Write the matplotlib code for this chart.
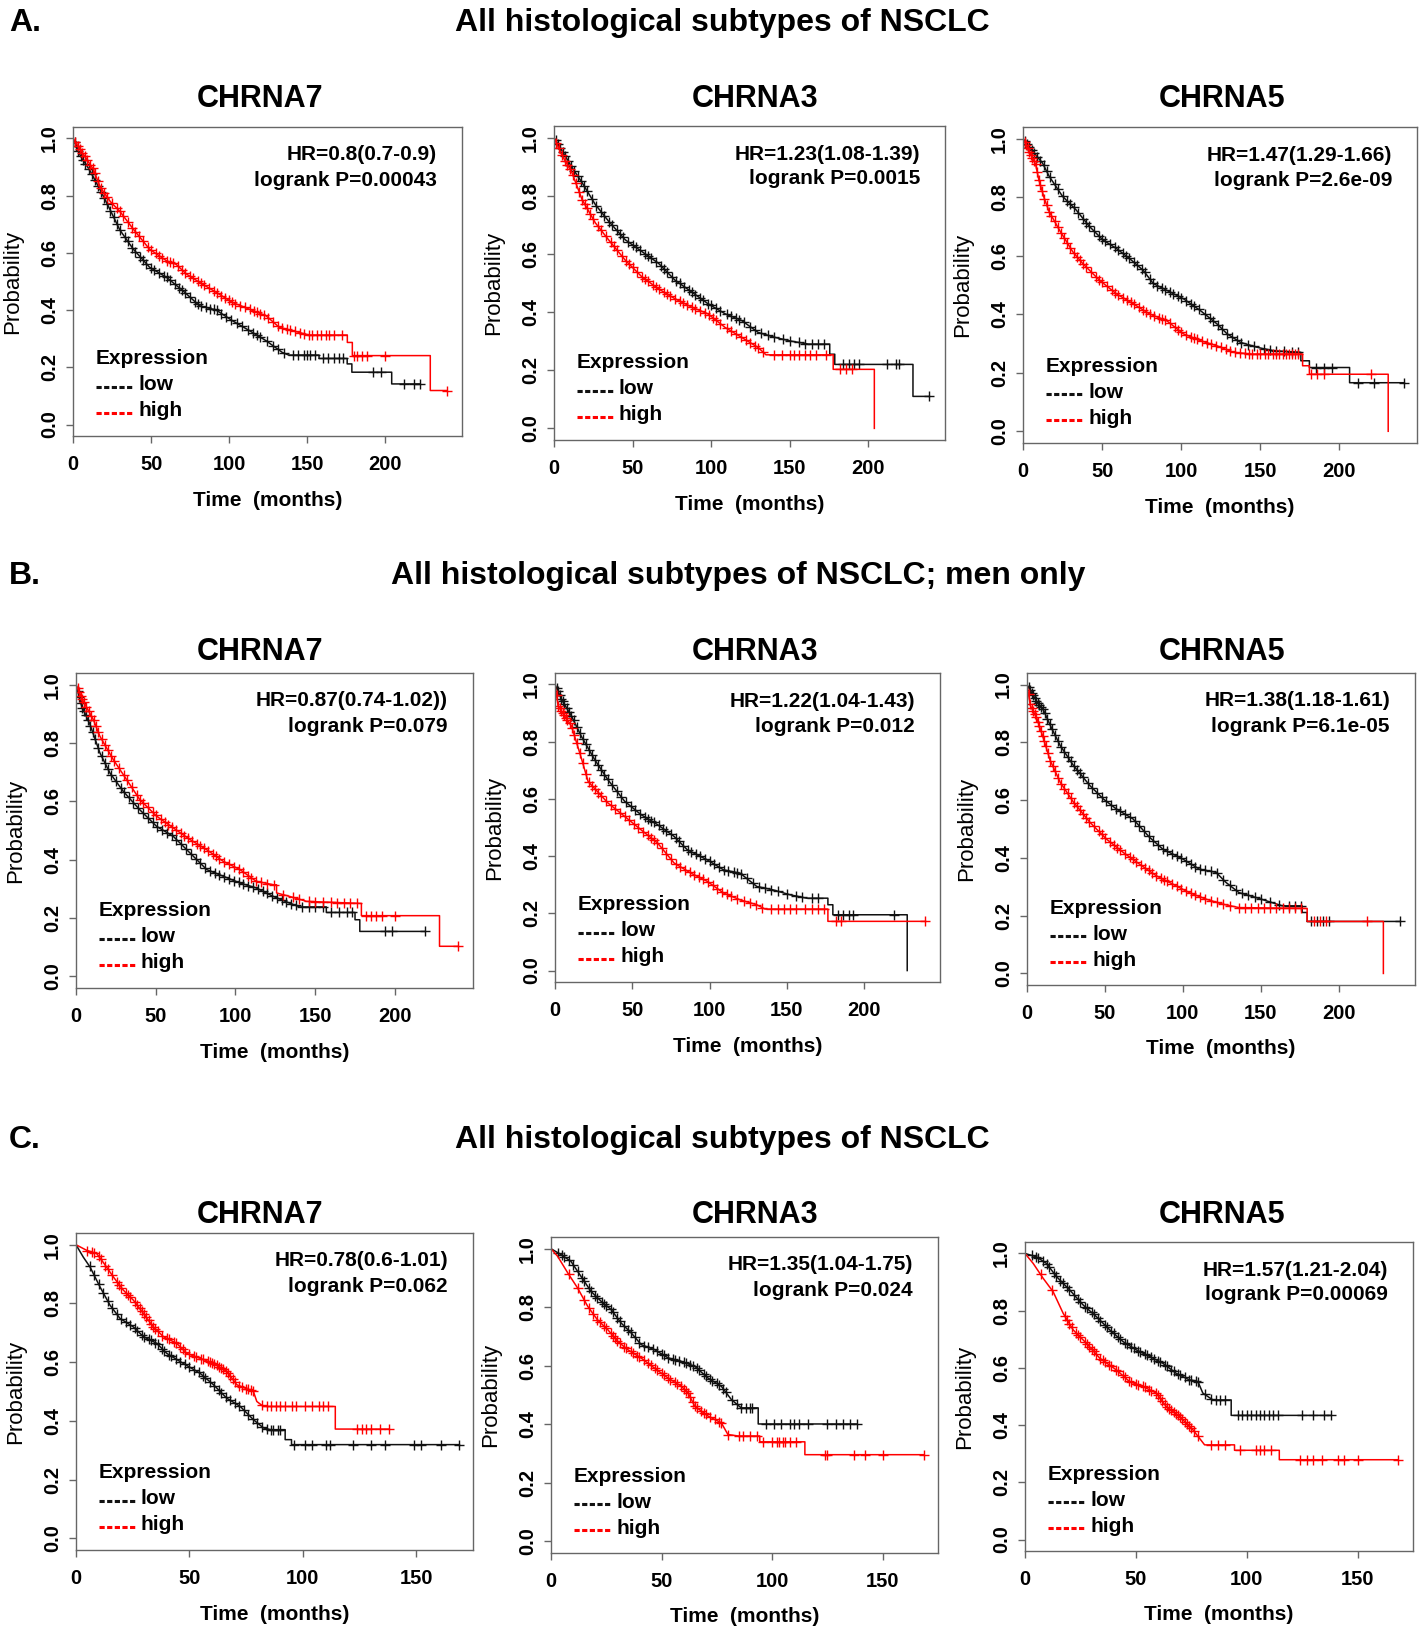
import numpy as np
import matplotlib.pyplot as plt
from matplotlib.lines import Line2D

plt.rcParams['font.family'] = ['Liberation Sans', 'DejaVu Sans']

# ---- Kaplan-Meier curves (months, survival) ----
# Row A: all histological subtypes
a7_low_t = [0, 4.7, 11, 17.4, 23.8, 30, 38.6, 49, 60, 70.5, 81, 91.7, 102, 113, 123.6, 134, 138, 157.5, 157.5, 175.5, 175.5, 178.5, 178.5, 204, 204, 222]
a7_low_s = [1, 0.94, 0.886, 0.82, 0.75, 0.68, 0.613, 0.55, 0.514, 0.467, 0.415, 0.40, 0.363, 0.328, 0.293, 0.252, 0.243, 0.243, 0.231, 0.231, 0.212, 0.212, 0.183, 0.183, 0.142, 0.142]
a7_low_cens = [1, 2, 3.5, 5, 6.5, 8, 10, 12, 14, 16, 18, 20, 22, 24, 26, 28, 30, 33, 35, 38, 40, 43, 45, 47, 50, 52, 55, 58, 60, 62, 65, 68, 70, 72, 75, 78, 80, 82, 85, 88, 90, 92, 95, 98, 101, 105, 108, 112, 115, 118, 120, 124, 128, 131, 135, 141, 144, 148, 150, 152, 155, 160, 163, 167, 170, 173, 192, 197, 212, 218, 222]
a7_high_t = [0, 6.8, 13, 17.4, 23.8, 30, 38.6, 49, 60, 66, 72.6, 81, 91.7, 102, 113, 123.6, 132, 140.5, 151, 175.6, 175.6, 178.8, 178.8, 228.7, 228.7, 239.3]
a7_high_s = [1, 0.944, 0.892, 0.83, 0.78, 0.745, 0.683, 0.613, 0.572, 0.56, 0.526, 0.497, 0.462, 0.427, 0.403, 0.38, 0.34, 0.328, 0.313, 0.313, 0.287, 0.287, 0.241, 0.241, 0.119, 0.119]
a7_high_cens = [1.5, 3, 4.5, 6, 7.5, 9, 11, 12.5, 14, 16, 18, 20, 22, 25, 28, 30, 32, 35, 38, 40, 42, 45, 48, 50, 53, 55, 57, 60, 62, 64, 67, 70, 72, 75, 77, 80, 82, 84, 87, 90, 92, 95, 97, 100, 102, 104, 107, 110, 113, 116, 118, 120, 122, 125, 128, 131, 134, 137, 139, 142, 145, 148, 151, 153, 156, 159, 162, 164, 167, 172, 180, 182, 185, 188, 200, 239.3]

a3_low_t = [0, 5, 11.4, 17.8, 26.3, 34.7, 45.3, 56, 66.5, 77, 87.7, 98, 109, 119.5, 130, 140.7, 151, 162, 175.6, 175.6, 178.8, 178.8, 228.6, 228.6, 239]
a3_low_s = [1, 0.956, 0.898, 0.846, 0.77, 0.713, 0.649, 0.608, 0.568, 0.51, 0.469, 0.429, 0.394, 0.371, 0.33, 0.313, 0.30, 0.29, 0.29, 0.255, 0.255, 0.22, 0.22, 0.11, 0.11]
a3_low_cens = [1, 2.5, 4, 5.5, 7, 9, 11, 13, 15, 17, 19, 21, 24, 27, 30, 32, 35, 37, 40, 42, 44, 47, 50, 52, 55, 58, 60, 62, 65, 68, 70, 72, 75, 78, 80, 83, 86, 88, 90, 93, 95, 98, 100, 103, 106, 110, 113, 116, 118, 121, 125, 128, 132, 136, 140, 146, 150, 156, 160, 164, 168, 172, 184, 188, 191, 194, 212, 218, 220, 239]
a3_high_t = [0, 5, 11.4, 17.8, 26.3, 34.7, 45.3, 56, 66.5, 77, 87.7, 98, 109, 119.5, 130, 135, 177.8, 177.8, 204, 204]
a3_high_s = [1, 0.94, 0.88, 0.788, 0.707, 0.649, 0.579, 0.521, 0.48, 0.446, 0.417, 0.394, 0.347, 0.313, 0.278, 0.253, 0.253, 0.203, 0.203, 0.0]
a3_high_cens = [1.5, 3, 5, 7, 8.5, 10, 12, 14, 16, 18, 19.5, 21, 23, 25, 28, 30, 33, 36, 38, 40, 43, 46, 48, 50, 53, 56, 58, 60, 63, 65, 67, 70, 72, 74, 77, 80, 82, 85, 88, 90, 93, 96, 99, 101, 103, 106, 110, 113, 116, 119, 122, 125, 128, 130, 133, 140, 145, 150, 153, 156, 160, 163, 167, 173, 182, 186, 190]

a5_low_t = [0, 6, 12.3, 16.5, 25, 33.5, 42, 50.5, 59, 67.4, 76, 82.3, 90.8, 101.4, 112, 122.6, 129, 137.4, 148, 158.6, 175.6, 175.6, 181, 181, 206.4, 206.4, 241]
a5_low_s = [1, 0.958, 0.917, 0.872, 0.803, 0.757, 0.70, 0.654, 0.625, 0.59, 0.55, 0.505, 0.482, 0.453, 0.413, 0.367, 0.333, 0.304, 0.287, 0.275, 0.27, 0.241, 0.241, 0.218, 0.218, 0.166, 0.166]
a5_low_cens = [1, 2.5, 4, 5.5, 7, 9, 11, 13, 15, 17, 20, 22, 25, 28, 30, 32, 35, 38, 40, 42, 45, 48, 50, 52, 55, 58, 60, 63, 65, 67, 70, 72, 75, 77, 80, 82, 85, 88, 90, 93, 95, 98, 100, 103, 106, 108, 111, 115, 118, 120, 123, 126, 129, 132, 135, 138, 142, 146, 152, 156, 160, 165, 170, 174, 185, 190, 195, 212, 222, 241]
a5_high_t = [0, 3.8, 8, 10, 13.4, 16.5, 23, 31.4, 37.8, 48.4, 59, 69.6, 80, 90.8, 101.4, 112, 122.6, 133, 143.8, 176.7, 176.7, 181, 181, 230.8, 230.8]
a5_high_s = [1, 0.958, 0.912, 0.86, 0.797, 0.751, 0.688, 0.614, 0.573, 0.516, 0.47, 0.436, 0.401, 0.378, 0.333, 0.31, 0.292, 0.27, 0.264, 0.264, 0.224, 0.224, 0.195, 0.195, 0.0]
a5_high_cens = [1, 2, 3, 4, 5, 6, 7, 8, 9, 10, 11, 12, 13.5, 15, 16.5, 18, 20, 22, 24, 26, 28, 30, 32, 34, 36, 38, 40, 43, 46, 48, 50, 53, 56, 58, 60, 63, 66, 68, 70, 73, 76, 78, 80, 83, 86, 88, 90, 93, 96, 98, 100, 103, 106, 108, 110, 113, 116, 119, 122, 125, 128, 131, 134, 137, 140, 143, 145, 148, 150, 153, 155, 158, 160, 162, 164, 166, 168, 170, 172, 174, 182, 186, 190, 220]

# Row B: men only
b7_low_t = [0, 3.6, 8.8, 15, 21.3, 29.7, 40, 50.6, 61, 71.5, 82, 92.4, 102.8, 113, 123.7, 134, 140.4, 157, 157, 175, 175, 178, 178, 218.8]
b7_low_s = [1, 0.926, 0.863, 0.766, 0.697, 0.634, 0.571, 0.514, 0.48, 0.423, 0.366, 0.343, 0.32, 0.303, 0.274, 0.251, 0.238, 0.238, 0.219, 0.219, 0.194, 0.194, 0.154, 0.154]
b7_low_cens = [1, 2, 3, 4, 5, 6, 7.5, 9, 10.5, 12, 14, 16, 18, 20, 22, 25, 28, 30, 33, 36, 39, 42, 45, 48, 51, 54, 57, 60, 63, 66, 69, 72, 75, 78, 81, 84, 87, 90, 93, 96, 99, 102, 105, 108, 111, 114, 117, 120, 123, 126, 129, 132, 135, 138, 142, 146, 150, 155, 160, 165, 170, 173, 194, 198, 218.8]
b7_high_t = [0, 4.6, 10.9, 15, 23.4, 31.8, 40, 50.6, 61, 71.5, 82, 92.4, 102.8, 113, 123.7, 125.8, 125.8, 134, 144.6, 179, 179, 228, 228, 239.7]
b7_high_s = [1, 0.943, 0.88, 0.823, 0.743, 0.674, 0.606, 0.549, 0.509, 0.469, 0.434, 0.394, 0.366, 0.326, 0.314, 0.314, 0.286, 0.274, 0.257, 0.25, 0.208, 0.208, 0.103, 0.103]
b7_high_cens = [1, 2, 3, 4, 5, 6.5, 8, 9.5, 11, 12.5, 14, 16, 18, 20, 22, 24, 27, 30, 32, 35, 38, 40, 42, 45, 48, 50, 53, 56, 58, 60, 63, 66, 68, 70, 73, 76, 78, 80, 83, 86, 88, 90, 93, 96, 99, 102, 105, 108, 110, 113, 116, 120, 124, 130, 136, 140, 146, 150, 155, 160, 164, 168, 172, 176, 182, 185, 188, 192, 200, 239.7]

b3_low_t = [0, 4.3, 10.7, 17, 25.7, 34.2, 45, 55.6, 66.3, 77, 85.6, 98.4, 109, 119.8, 130.5, 141, 151.9, 162.6, 176.5, 176.5, 179.7, 179.7, 227.8, 227.8]
b3_low_s = [1, 0.947, 0.889, 0.819, 0.737, 0.667, 0.592, 0.545, 0.51, 0.469, 0.422, 0.387, 0.352, 0.34, 0.294, 0.282, 0.265, 0.253, 0.253, 0.23, 0.23, 0.195, 0.195, 0.0]
b3_low_cens = [1, 2, 3, 4, 5, 6, 7.5, 9, 10.5, 12, 14, 16, 18, 20, 22, 24, 26, 28, 30, 32, 34, 37, 40, 43, 46, 49, 52, 55, 58, 60, 62, 64, 67, 70, 72, 75, 78, 80, 83, 86, 88, 91, 94, 97, 100, 103, 106, 109, 112, 116, 118, 120, 124, 128, 132, 136, 140, 144, 150, 156, 160, 166, 170, 183, 186, 190, 193, 219]
b3_high_t = [0, 2, 10.7, 17, 21.4, 34.2, 45, 55.6, 66.3, 77, 87.7, 98.4, 109, 119.8, 130.5, 135.8, 176.5, 176.5, 239.6]
b3_high_s = [1, 0.924, 0.854, 0.743, 0.661, 0.586, 0.539, 0.492, 0.446, 0.376, 0.341, 0.312, 0.271, 0.247, 0.23, 0.215, 0.215, 0.172, 0.172]
b3_high_cens = [1, 2, 3, 4, 5, 6, 7, 8, 9.5, 11, 12.5, 14, 16, 18, 20, 22, 24, 26, 28, 30, 33, 36, 39, 42, 45, 48, 51, 54, 57, 60, 62, 64, 66, 69, 72, 75, 78, 81, 84, 87, 90, 93, 96, 99, 102, 105, 108, 111, 114, 118, 122, 126, 130, 134, 140, 144, 148, 152, 156, 162, 166, 170, 174, 182, 185, 239.6]

b5_low_t = [0, 6.4, 10.6, 14.9, 21.3, 29.8, 40.4, 49, 57.4, 68, 78.7, 87.2, 100, 110.6, 121.3, 127.7, 136, 146.8, 157.4, 163.8, 176.6, 176.6, 179.8, 179.8, 239.4]
b5_low_s = [1, 0.94, 0.911, 0.859, 0.789, 0.72, 0.65, 0.604, 0.569, 0.535, 0.471, 0.43, 0.396, 0.361, 0.35, 0.315, 0.28, 0.263, 0.245, 0.234, 0.234, 0.211, 0.211, 0.18, 0.18]
b5_low_cens = [1, 2, 3, 4, 5, 6, 7, 8, 9, 10, 11.5, 13, 14.5, 16, 18, 20, 22, 24, 26, 28, 30, 32, 34, 36, 39, 42, 45, 48, 51, 54, 57, 60, 63, 66, 69, 72, 75, 78, 81, 84, 87, 90, 93, 96, 99, 102, 105, 108, 111, 114, 118, 122, 126, 130, 134, 138, 142, 146, 150, 156, 162, 168, 172, 176, 182, 186, 190, 194, 239.4]
b5_high_t = [0, 2.1, 6.4, 10.6, 14.9, 21.3, 29.8, 40.4, 51, 61.7, 72.3, 83, 93.6, 104, 115, 125.5, 136, 179.8, 179.8, 228.7, 228.7]
b5_high_s = [1, 0.928, 0.882, 0.8125, 0.737, 0.662, 0.593, 0.523, 0.465, 0.419, 0.378, 0.338, 0.309, 0.28, 0.257, 0.24, 0.228, 0.225, 0.18, 0.18, 0.0]
b5_high_cens = [1, 2, 3, 4, 5, 6, 7, 8, 9, 10, 11, 12, 13.5, 15, 16.5, 18, 20, 22, 24, 26, 28, 30, 32, 34, 36, 38, 40, 43, 46, 48, 50, 53, 56, 58, 60, 63, 66, 68, 70, 73, 76, 78, 80, 83, 86, 88, 90, 93, 96, 99, 102, 105, 108, 111, 114, 118, 122, 126, 130, 136, 140, 144, 148, 152, 156, 160, 164, 168, 172, 176, 184, 188, 192, 218]

# Row C
c7_low_t = [0, 3.2, 6.2, 10.6, 15, 19.4, 25.3, 29.7, 35.6, 40, 45.9, 54.7, 60.6, 66.5, 72.4, 78.2, 82.6, 85.6, 92.2, 92.2, 95, 95, 169]
c7_low_s = [1, 0.958, 0.924, 0.856, 0.794, 0.749, 0.72, 0.687, 0.664, 0.63, 0.602, 0.562, 0.523, 0.477, 0.449, 0.404, 0.376, 0.37, 0.37, 0.336, 0.336, 0.319, 0.319]
c7_low_cens = [6, 8, 10, 12, 14, 16, 18, 20, 22, 24, 26, 27, 29, 30, 32, 33, 35, 36, 38, 39, 41, 42, 44, 46, 48, 50, 52, 54, 56, 57, 59, 61, 63, 64, 66, 68, 70, 72, 74, 76, 78, 80, 82, 84, 86, 87, 89, 90, 96, 101, 104, 110, 112, 122, 130, 136, 149, 152, 161, 169]
c7_high_t = [0, 4.7, 9.1, 12, 16.5, 20.9, 25.3, 29.7, 34.1, 38.5, 44.4, 48.8, 54.7, 60.6, 66.5, 70.9, 78.2, 79.7, 82.6, 114.3, 114.3, 137.8]
c7_high_s = [1, 0.981, 0.97, 0.94, 0.89, 0.845, 0.811, 0.766, 0.72, 0.687, 0.664, 0.63, 0.613, 0.596, 0.568, 0.523, 0.50, 0.466, 0.449, 0.449, 0.372, 0.372]
c7_high_cens = [5, 7, 8, 10, 11, 13, 14, 16, 18, 19, 20, 22, 23, 24, 26, 27, 28, 29, 30, 31, 32, 33, 34, 35, 36, 38, 40, 41, 43, 44, 46, 47, 48, 50, 52, 53, 55, 56, 58, 59, 60, 61, 62, 63, 64, 65, 66, 67, 68, 69, 70, 72, 73, 75, 76, 77, 78, 82, 84, 86, 88, 90, 92, 95, 97, 101, 104, 107, 109, 111, 124, 126, 128, 130, 134, 137.8]

c3_low_t = [0, 4.5, 9, 13.6, 18.1, 22.7, 27.2, 31.7, 36.3, 40.8, 46.8, 52.9, 58.9, 65, 71, 77, 81.6, 86, 93.7, 93.7, 138.2]
c3_low_s = [1, 0.98, 0.957, 0.905, 0.854, 0.82, 0.792, 0.746, 0.712, 0.672, 0.655, 0.627, 0.615, 0.598, 0.558, 0.53, 0.484, 0.456, 0.456, 0.401, 0.401]
c3_low_cens = [3, 5, 6, 8, 10, 12, 14, 15, 17, 18, 20, 21, 23, 24, 25, 27, 28, 30, 31, 33, 35, 36, 38, 40, 42, 44, 46, 48, 50, 51, 53, 55, 56, 58, 60, 61, 63, 64, 66, 67, 69, 70, 72, 73, 75, 76, 78, 79, 82, 84, 86, 88, 90, 91, 97, 101, 104, 108, 110, 112, 116, 125, 129, 132, 135, 138.2]
c3_high_t = [0, 3, 7.6, 12, 16.6, 21, 25.7, 30.2, 34.7, 40.8, 46.8, 52.9, 58.9, 62, 65, 71, 77, 80, 84.6, 94.4, 94.4, 114.8, 114.8, 168.7]
c3_high_s = [1, 0.974, 0.917, 0.866, 0.803, 0.757, 0.723, 0.683, 0.655, 0.626, 0.592, 0.558, 0.53, 0.507, 0.462, 0.428, 0.405, 0.365, 0.36, 0.36, 0.34, 0.34, 0.296, 0.296]
c3_high_cens = [8, 12, 15, 17, 19, 21, 22, 24, 25, 27, 28, 29, 30, 31, 33, 34, 36, 37, 39, 40, 42, 44, 45, 47, 48, 50, 51, 53, 54, 56, 57, 59, 60, 61, 62, 63, 64, 65, 66, 68, 69, 70, 72, 74, 76, 77, 80, 85, 87, 90, 93, 96, 100, 102, 103, 105, 106, 108, 111, 124, 125, 137, 142, 150, 168.7]

c5_low_t = [0, 5.2, 9.7, 14.2, 20.2, 26.2, 32.2, 38.2, 44.2, 50.2, 56.2, 62.2, 68.2, 74.2, 78, 80.2, 84.7, 93, 93, 138]
c5_low_s = [1, 0.988, 0.965, 0.919, 0.872, 0.82, 0.779, 0.733, 0.692, 0.663, 0.64, 0.616, 0.581, 0.558, 0.552, 0.512, 0.488, 0.488, 0.434, 0.434]
c5_low_cens = [3, 5, 6, 8, 10, 11, 13, 14, 16, 17, 19, 20, 22, 24, 25, 27, 28, 30, 31, 33, 34, 36, 37, 39, 40, 42, 43, 45, 46, 48, 49, 51, 52, 54, 55, 57, 58, 60, 61, 63, 64, 66, 67, 69, 70, 72, 74, 75, 77, 78, 81, 84, 86, 88, 90, 96, 98, 100, 102, 104, 106, 108, 110, 112, 114, 125, 130, 135, 138]
c5_high_t = [0, 3.7, 8.2, 12.7, 17.2, 21.7, 27.7, 33.7, 41.2, 47.2, 53.2, 59.2, 63.7, 69.7, 75.7, 81, 94.5, 94.5, 114.7, 114.7, 168.2]
c5_high_s = [1, 0.965, 0.913, 0.866, 0.791, 0.733, 0.686, 0.634, 0.593, 0.552, 0.535, 0.512, 0.465, 0.43, 0.384, 0.331, 0.331, 0.312, 0.312, 0.279, 0.279]
c5_high_cens = [7, 12, 18, 19, 20, 21, 23, 24, 25, 27, 28, 29, 30, 31, 32, 34, 35, 36, 38, 39, 41, 42, 44, 45, 47, 48, 50, 51, 53, 54, 56, 57, 59, 60, 61, 62, 63, 64, 65, 66, 67, 68, 69, 70, 71, 72, 73, 74, 75, 76, 78, 84, 87, 90, 97, 104, 106, 108, 111, 124, 127, 130, 134, 141, 144, 150, 168.2]

hr_texts = ["HR=0.8(0.7-0.9)", "HR=1.23(1.08-1.39)", "HR=1.47(1.29-1.66)",
            "HR=0.87(0.74-1.02))", "HR=1.22(1.04-1.43)", "HR=1.38(1.18-1.61)",
            "HR=0.78(0.6-1.01)", "HR=1.35(1.04-1.75)", "HR=1.57(1.21-2.04)"]
p_texts = ["logrank P=0.00043", "logrank P=0.0015", "logrank P=2.6e-09",
           "logrank P=0.079", "logrank P=0.012", "logrank P=6.1e-05",
           "logrank P=0.062", "logrank P=0.024", "logrank P=0.00069"]
genes = ["CHRNA7", "CHRNA3", "CHRNA5"]
section_titles = ["All histological subtypes of NSCLC",
                  "All histological subtypes of NSCLC; men only",
                  "All histological subtypes of NSCLC"]
section_letters = ["A.", "B.", "C."]

curves = [
    ((a7_low_t, a7_low_s, a7_low_cens), (a7_high_t, a7_high_s, a7_high_cens)),
    ((a3_low_t, a3_low_s, a3_low_cens), (a3_high_t, a3_high_s, a3_high_cens)),
    ((a5_low_t, a5_low_s, a5_low_cens), (a5_high_t, a5_high_s, a5_high_cens)),
    ((b7_low_t, b7_low_s, b7_low_cens), (b7_high_t, b7_high_s, b7_high_cens)),
    ((b3_low_t, b3_low_s, b3_low_cens), (b3_high_t, b3_high_s, b3_high_cens)),
    ((b5_low_t, b5_low_s, b5_low_cens), (b5_high_t, b5_high_s, b5_high_cens)),
    ((c7_low_t, c7_low_s, c7_low_cens), (c7_high_t, c7_high_s, c7_high_cens)),
    ((c3_low_t, c3_low_s, c3_low_cens), (c3_high_t, c3_high_s, c3_high_cens)),
    ((c5_low_t, c5_low_s, c5_low_cens), (c5_high_t, c5_high_s, c5_high_cens)),
]

# layout, in pixels of the 1424x1629 canvas: (left, top, right, bottom)
W, H = 1424, 1629
boxes = [(73, 127, 462, 436), (554, 126, 945, 440), (1023, 127, 1417, 443),
         (76, 673, 473, 988), (555, 673, 940, 982), (1027, 673, 1415, 985),
         (76, 1233, 473, 1550), (551, 1237, 938, 1553), (1025, 1242, 1413, 1551)]
title_xy = [(260, 99), (755, 99), (1222, 99),
            (260, 652), (755, 652), (1222, 652),
            (260, 1215), (755, 1215), (1222, 1215)]
section_y = [23, 576, 1140]
section_x = [722, 738, 722]
BLACK, RED = '#111111', '#ff0000'

fig = plt.figure(figsize=(W / 100, H / 100), dpi=100)

for i in range(3):
    fig.text(9 / W, 1 - section_y[i] / H, section_letters[i], fontsize=23,
             fontweight='bold', ha='left', va='center')
    fig.text(section_x[i] / W, 1 - section_y[i] / H, section_titles[i], fontsize=23,
             fontweight='bold', ha='center', va='center')

for k in range(9):
    l, t, r, b = boxes[k]
    w_px, h_px = r - l, b - t
    ax = fig.add_axes([l / W, 1 - b / H, w_px / W, h_px / H])
    row = k // 3
    xmax = 175 if row == 2 else 249
    xt = [0, 50, 100, 150] if row == 2 else [0, 50, 100, 150, 200]

    low, high = curves[k]
    for (ct, cs, cc), col in ((low, BLACK), (high, RED)):
        ax.plot(ct, cs, color=col, lw=1.1)
        cy = np.interp(cc, ct, cs)
        ax.plot(cc, cy, '+', color=col, ms=7, mew=1.0, linestyle='none')

    ax.set_xlim(0, xmax)
    ax.set_ylim(-0.04, 1.04)
    ax.set_xticks(xt)
    ax.set_xticklabels([str(v) for v in xt])
    yt = [0.0, 0.2, 0.4, 0.6, 0.8, 1.0]
    ax.set_yticks(yt)
    ax.set_yticklabels([f"{v:.1f}" for v in yt], rotation=90, va='center')
    for sp in ax.spines.values():
        sp.set_color('#666666')
        sp.set_linewidth(1.0)
    ax.tick_params(axis='both', direction='out', length=5, width=1, color='#666666',
                   labelsize=14.5)
    ax.tick_params(axis='x', pad=9)
    ax.tick_params(axis='y', pad=5)
    for lab in ax.get_xticklabels() + ax.get_yticklabels():
        lab.set_fontweight('bold')

    ax.text(0.5, -64 / h_px, "Time  (months)", transform=ax.transAxes, fontsize=15,
            fontweight='bold', ha='center', va='center')
    ax.text(-60 / w_px, 0.5, "Probability", transform=ax.transAxes, fontsize=16,
            rotation=90, ha='center', va='center')

    ax.text(1 - 25 / w_px, 1 - 28 / h_px, hr_texts[k], transform=ax.transAxes,
            fontsize=15, fontweight='bold', ha='right', va='center')
    ax.text(1 - 25 / w_px, 1 - 53 / h_px, p_texts[k], transform=ax.transAxes,
            fontsize=15, fontweight='bold', ha='right', va='center')

    # legend drawn like the R output: "Expression", then dashed keys
    lx = 23 / w_px
    ax.text(lx, 77 / h_px, "Expression", transform=ax.transAxes, fontsize=15,
            fontweight='bold', ha='left', va='center')
    for yy, col, name in ((49, BLACK, 'low'), (23, RED, 'high')):
        ax.add_line(Line2D([lx, lx + 38 / w_px], [yy / h_px, yy / h_px],
                           transform=ax.transAxes, color=col, lw=2.2,
                           dashes=(1.7, 0.8), clip_on=False))
        ax.text(lx + 42 / w_px, (yy + 2) / h_px, name, transform=ax.transAxes, fontsize=15,
                fontweight='bold', ha='left', va='center')

    tx, ty = title_xy[k]
    fig.text(tx / W, 1 - ty / H, genes[k % 3], fontsize=22, fontweight='bold',
             ha='center', va='center')

fig.savefig("out.png", dpi=100)
